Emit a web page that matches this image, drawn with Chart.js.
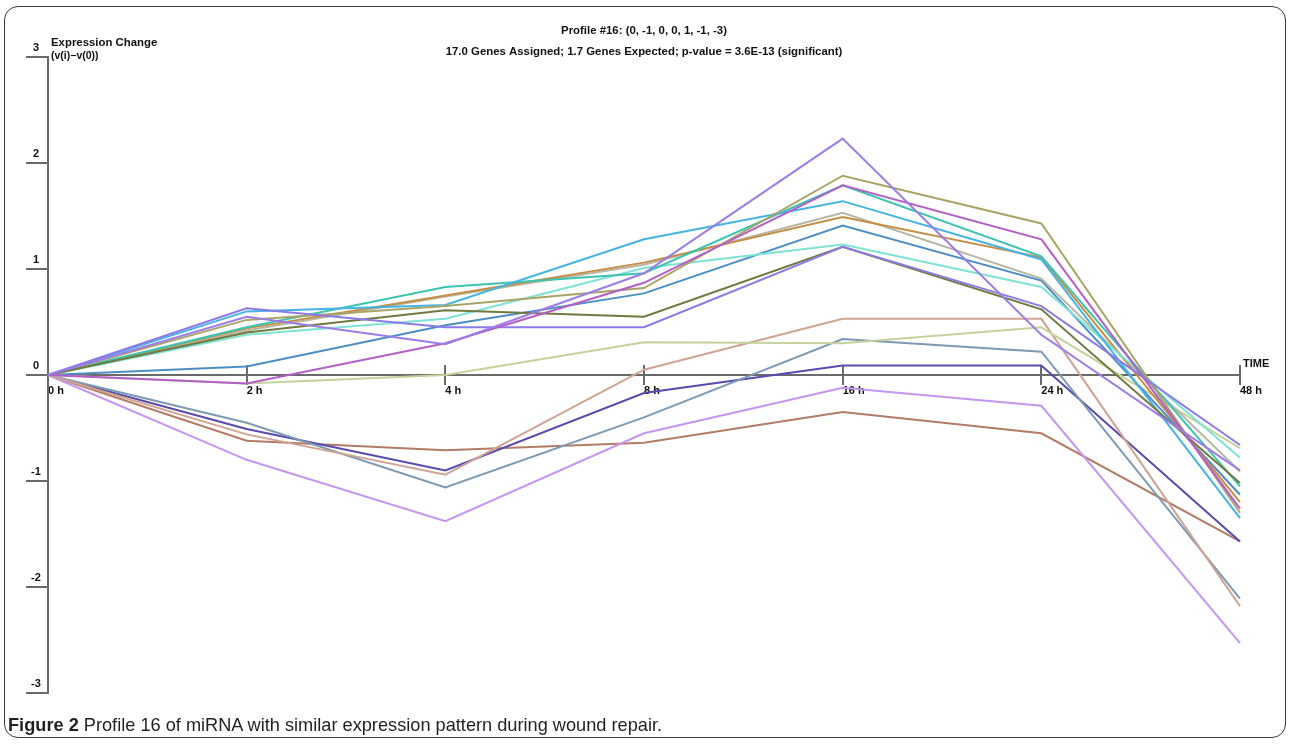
<!DOCTYPE html>
<html>
<head>
<meta charset="utf-8">
<title>Profile 16</title>
<script src="https://cdn.jsdelivr.net/npm/chart.js@4.4.1/dist/chart.umd.min.js"></script>
<style>
  html, body { margin: 0; padding: 0; background: #fff; }
  #wrap { position: relative; width: 1290px; height: 744px; overflow: hidden; }
  #frame {
    position: absolute; left: 4px; top: 6px; width: 1282px; height: 732px;
    border: 1.5px solid #3a3a3a; border-radius: 14px; box-sizing: border-box;
  }
  #chart { position: absolute; left: 0; top: 0; }
  #caption {
    position: absolute; left: 8px; top: 715px; line-height: 20px;
    font-family: "Liberation Sans", Arial, sans-serif; font-size: 18.2px;
    color: #231f20; white-space: nowrap;
  }
</style>
</head>
<body>
<div id="wrap">
  <div id="frame"></div>
  <canvas id="chart" width="1290" height="744"></canvas>
  <div id="caption"><b>Figure 2</b> Profile 16 of miRNA with similar expression pattern during wound repair.</div>
</div>
<script>
const timeLabels = ['0 h', '2 h', '4 h', '8 h', '16 h', '24 h', '48 h'];
const yTicks = [3, 2, 1, 0, -1, -2, -3];

// one line per miRNA (expression change v(i)-v(0))
const purplePeak  = [0, 0.55, 0.29, 0.96, 2.23, 0.38, -0.90];
const magenta     = [0, -0.08, 0.30, 0.87, 1.79, 1.28, -1.26];
const purpleFlat  = [0, 0.63, 0.45, 0.45, 1.21, 0.65, -0.66];
const darkOlive   = [0, 0.40, 0.61, 0.55, 1.21, 0.62, -1.02];
const khaki       = [0, 0.52, 0.65, 0.82, 1.88, 1.43, -1.30];
const skyBlue     = [0, 0.60, 0.66, 1.28, 1.64, 1.09, -1.35];
const teal        = [0, 0.45, 0.83, 0.96, 1.79, 1.12, -1.05];
const aquamarine  = [0, 0.38, 0.53, 1.01, 1.23, 0.83, -0.78];
const peru        = [0, 0.44, 0.75, 1.06, 1.49, 1.11, -1.20];
const grayTan     = [0, 0.42, 0.74, 1.04, 1.53, 0.91, -0.91];
const steelBlue   = [0, 0.08, 0.47, 0.77, 1.41, 0.89, -1.13];
const paleOlive   = [0, -0.08, 0.00, 0.31, 0.30, 0.45, -0.69];
const rosyTan     = [0, -0.56, -0.94, 0.05, 0.53, 0.53, -2.18];
const steelGray   = [0, -0.45, -1.06, -0.40, 0.34, 0.22, -2.11];
const slate       = [0, -0.51, -0.90, -0.17, 0.09, 0.09, -1.57];
const lightPurple = [0, -0.80, -1.38, -0.55, -0.12, -0.29, -2.53];
const brown       = [0, -0.62, -0.71, -0.64, -0.35, -0.55, -1.57];

const series = [
  [purplePeak, '#9c7ce6'], [magenta, '#b45ec8'], [purpleFlat, '#8c7ae8'],
  [darkOlive, '#707a40'], [khaki, '#a9a466'], [skyBlue, '#45b4e4'],
  [teal, '#3cc4b0'], [aquamarine, '#7ee2d4'], [peru, '#c48e46'],
  [grayTan, '#b8b6a2'], [steelBlue, '#4c8ec4'], [paleOlive, '#c6d29c'],
  [rosyTan, '#d0a494'], [steelGray, '#7c9ab4'], [slate, '#5a4aae'],
  [lightPurple, '#c496f2'], [brown, '#b27c66']
];

const fontFamily = '"Liberation Sans", Arial, sans-serif';

// tick marks, y labels and axis captions, placed with the chart's scales
const axisDecor = {
  id: 'axisDecor',
  beforeDatasetsDraw(chart) {
    const { ctx, scales: { x, y } } = chart;
    const y0 = y.getPixelForValue(0);
    ctx.save();
    ctx.strokeStyle = '#6a6a6a';
    ctx.lineWidth = 2;
    ctx.beginPath();
    yTicks.forEach(v => {
      const py = Math.round(y.getPixelForValue(v));
      ctx.moveTo(x.left - 22, py);
      ctx.lineTo(x.left, py);
    });
    timeLabels.forEach((l, i) => {
      if (i === 0) return;
      const px = Math.round(x.getPixelForValue(i));
      ctx.moveTo(px, y0 - 10);
      ctx.lineTo(px, y0 + 10);
    });
    ctx.stroke();

    ctx.fillStyle = '#111';
    ctx.font = 'bold 11px ' + fontFamily;
    ctx.textAlign = 'center';
    ctx.textBaseline = 'middle';
    yTicks.forEach(v => ctx.fillText(String(v), x.left - 12, y.getPixelForValue(v) - 9));

    ctx.textAlign = 'left';
    ctx.fillText('TIME', x.right + 3, y0 - 11);
    ctx.font = 'bold 11.4px ' + fontFamily;
    ctx.fillText('Expression Change', x.left + 3, y.top - 14);
    ctx.font = 'bold 10.5px ' + fontFamily;
    ctx.fillText('(v(i)\u2212v(0))', x.left + 3, y.top - 1);
    ctx.restore();
  }
};

new Chart(document.getElementById('chart').getContext('2d'), {
  type: 'line',
  data: {
    labels: timeLabels,
    datasets: series.map(([data, color]) => ({
      data: data,
      borderColor: color,
      backgroundColor: color,
      borderWidth: 2,
      pointRadius: 0,
      tension: 0,
      fill: false
    }))
  },
  options: {
    responsive: false,
    animation: false,
    events: [],
    layout: { padding: { top: 0, left: 48, right: 50, bottom: 51 } },
    plugins: {
      legend: { display: false },
      tooltip: { enabled: false },
      title: {
        display: true,
        text: 'Profile #16: (0, -1, 0, 0, 1, -1, -3)',
        color: '#111',
        font: { family: fontFamily, size: 11.4, weight: 'bold', lineHeight: 1.2 },
        padding: { top: 24.4, bottom: 6.5 }
      },
      subtitle: {
        display: true,
        text: '17.0 Genes Assigned; 1.7 Genes Expected; p-value = 3.6E-13 (significant)',
        color: '#111',
        font: { family: fontFamily, size: 11.4, weight: 'bold', lineHeight: 1.2 },
        padding: { top: 0, bottom: -1.26 }
      }
    },
    scales: {
      x: {
        type: 'category',
        position: { y: 0 },
        offset: false,
        grid: { display: false, drawTicks: false },
        border: { display: true, color: '#6a6a6a', width: 2 },
        ticks: {
          align: 'start',
          padding: 9,
          autoSkip: false,
          maxRotation: 0,
          color: '#111',
          font: { family: fontFamily, size: 11, weight: 'bold' }
        }
      },
      y: {
        min: -3,
        max: 3,
        grid: { display: false, drawTicks: false },
        border: { display: true, color: '#6a6a6a', width: 2 },
        ticks: { display: false, stepSize: 1 }
      }
    }
  },
  plugins: [axisDecor]
});
</script>
</body>
</html>
